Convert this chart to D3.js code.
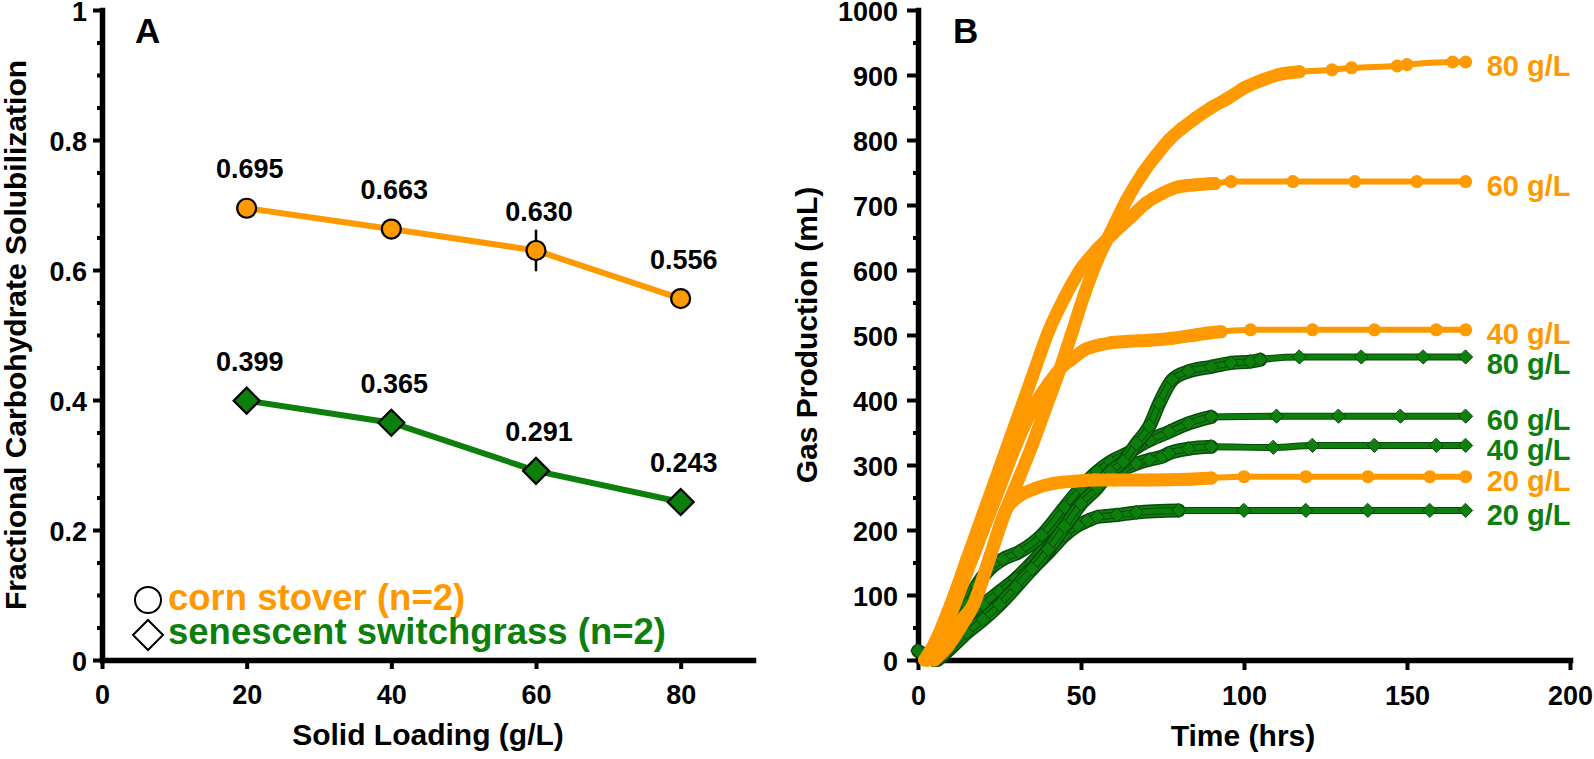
<!DOCTYPE html>
<html><head><meta charset="utf-8">
<script src="https://cdn.jsdelivr.net/npm/d3@7"></script>
<style>
body{margin:0;background:#fff}
svg{display:block}
text{font-family:Arial,"Liberation Sans",sans-serif;font-weight:bold}
</style>
</head><body>
<svg id="c" width="1594" height="759"></svg>
<script>
// ---------- Panel A data ----------
const loadings = [20, 40, 60, 80];
const cornStover = [0.695, 0.663, 0.630, 0.556];
const cornStoverErr = [0, 0, 0.032, 0];
const switchgrass = [0.399, 0.365, 0.291, 0.243];
const switchgrassErr = [0, 0, 0, 0];
const cornStoverLabels = ["0.695", "0.663", "0.630", "0.556"];
const switchgrassLabels = ["0.399", "0.365", "0.291", "0.243"];
const aXTicks = [0, 20, 40, 60, 80];
const aYTicks = [0, 0.2, 0.4, 0.6, 0.8, 1];
const aYTickLabels = ["0", "0.2", "0.4", "0.6", "0.8", "1"];

// ---------- Panel B data (time in hrs, gas in mL) ----------
const cs80Time = [5, 9, 13, 17, 22, 27, 31, 35, 39, 43, 47, 51, 55, 60, 64, 69, 73, 77, 81, 85, 90, 95, 100, 106, 112, 117, 127, 133, 147, 150, 164, 168];
const cs80Vol  = [0, 20, 50, 85, 158, 231, 280, 330, 385, 440, 500, 562, 615, 667, 708, 749, 776, 800, 818, 833, 850, 864, 880, 893, 902, 905, 908, 911, 914, 916, 920, 920];
const cs60Time = [2, 5, 10, 15, 20, 25, 30, 35, 40, 45, 50, 55, 60, 65, 70, 75, 80, 85, 91, 96, 115, 134, 153, 168];
const cs60Vol  = [0, 25, 85, 155, 225, 295, 365, 435, 505, 558, 602, 632, 657, 680, 703, 718, 728, 731, 733, 736, 736, 736, 736, 736];
const cs40Time = [3, 6, 10, 15, 20, 25, 30, 35, 40, 44, 47, 51, 56, 59, 64, 71, 78, 85, 89, 93, 102, 121, 140, 159, 168];
const cs40Vol  = [0, 25, 70, 135, 200, 265, 330, 385, 425, 450, 462, 477, 485, 488, 490, 492, 495, 500, 503, 505, 508, 508, 508, 508, 508];
const cs20Time = [3, 7, 10, 14, 17, 22, 27, 31, 36, 42, 48, 54, 60, 71, 83, 90, 100, 119, 138, 157, 168];
const cs20Vol  = [0, 20, 40, 65, 85, 158, 231, 252, 264, 272, 275, 277, 277, 277, 278, 280, 282, 282, 282, 282, 282];

const ssg80Time = [6, 10, 15, 20, 25, 30, 35, 40, 45, 50, 55, 59, 63, 67, 71, 74, 78, 83, 90, 96, 102, 105, 117, 136, 155, 168];
const ssg80Vol  = [0, 18, 42, 62, 85, 112, 140, 170, 205, 240, 265, 290, 305, 333, 360, 395, 431, 444, 451, 457, 459, 462, 466, 466, 466, 466];
const ssg60Time = [5, 10, 15, 18, 22, 26, 31, 38, 45, 50, 55, 59, 65, 68, 71, 77, 83, 90, 110, 129, 148, 168];
const ssg60Vol  = [0, 40, 85, 115, 140, 155, 166, 192, 235, 265, 290, 305, 320, 330, 338, 351, 364, 374, 375, 375, 375, 375];
const ssg40Time = [5, 10, 15, 20, 25, 30, 35, 40, 45, 50, 55, 60, 63, 67, 71, 75, 77, 83, 90, 109, 121, 140, 159, 168];
const ssg40Vol  = [0, 30, 60, 85, 105, 125, 150, 178, 212, 248, 275, 290, 294, 302, 308, 313, 318, 325, 328, 327, 330, 330, 330, 330];
const ssg20Time = [0, 3, 6, 10, 15, 20, 25, 30, 35, 40, 45, 49, 52, 55, 61, 67, 80, 100, 119, 138, 157, 168];
const ssg20Vol  = [14, 8, 12, 30, 52, 72, 92, 115, 140, 165, 192, 207, 214, 220, 223, 227, 230, 230, 230, 230, 230, 230];

const bXTicks = [0, 50, 100, 150, 200];
const bYTicks = [0, 100, 200, 300, 400, 500, 600, 700, 800, 900, 1000];
const seriesLabels = ["80 g/L", "60 g/L", "40 g/L", "20 g/L"];

// ---------- styles ----------
const ORANGE = "#ff9900", GREEN = "#0d7f0d", GREEN_DARK = "#0a4a0a";
const FONT = 'Arial, "Liberation Sans", sans-serif';
const svg = d3.select("#c");

function styleAxis(g, fs) {
  g.attr("font-size", fs).attr("font-family", FONT).attr("font-weight", "bold");
  g.select(".domain").attr("stroke", "#000").attr("stroke-width", 5.5).attr("stroke-linecap", "square");
  g.selectAll(".tick line").attr("stroke", "#000").attr("stroke-width", 4);
  g.selectAll(".tick text").attr("fill", "#000")
    .style("font-weight", "bold").style("font-size", fs + "px").style("font-family", FONT);
}
function minorAxis(g) {
  g.select(".domain").remove();
  g.selectAll(".tick line").attr("stroke", "#000").attr("stroke-width", 4);
}

// ================= Panel A =================
const xA = d3.scaleLinear().domain([0, 90]).range([102, 753]);
const yA = d3.scaleLinear().domain([0, 1]).range([660, 10]);

const aMinor = d3.range(0.05, 1, 0.05).filter(v => Math.abs(v * 5 - Math.round(v * 5)) > 1e-6);
svg.append("g").attr("transform", `translate(${xA(0)},0)`)
  .call(d3.axisLeft(yA).tickValues(aMinor).tickSize(5).tickFormat(() => "")).call(minorAxis);
const gAy = svg.append("g").attr("transform", `translate(${xA(0)},0)`)
  .call(d3.axisLeft(yA).tickValues(aYTicks).tickSize(9).tickSizeOuter(0).tickPadding(6)
    .tickFormat((d, i) => aYTickLabels[i]));
styleAxis(gAy, 27);
gAy.selectAll(".tick text").attr("dy", "0.37em");
const gAx = svg.append("g").attr("transform", `translate(0,${yA(0)})`)
  .call(d3.axisBottom(xA).tickValues(aXTicks).tickSize(9).tickSizeOuter(0).tickPadding(16));
styleAxis(gAx, 27);

svg.append("text").attr("transform", `translate(26,335) rotate(-90)`).attr("text-anchor", "middle")
  .attr("font-size", 30).text("Fractional Carbohydrate Solubilization");
svg.append("text").attr("x", 428).attr("y", 745).attr("text-anchor", "middle")
  .attr("font-size", 30).text("Solid Loading (g/L)");
svg.append("text").attr("x", 135).attr("y", 43).attr("font-size", 35).text("A");

const lineA = d3.line().x(d => xA(d.x)).y(d => yA(d.y));
const csA = loadings.map((x, i) => ({ x, y: cornStover[i], e: cornStoverErr[i], lab: cornStoverLabels[i] }));
const sgA = loadings.map((x, i) => ({ x, y: switchgrass[i], e: switchgrassErr[i], lab: switchgrassLabels[i] }));

svg.append("path").datum(csA).attr("d", lineA).attr("fill", "none").attr("stroke", ORANGE).attr("stroke-width", 6);
svg.append("path").datum(sgA).attr("d", lineA).attr("fill", "none").attr("stroke", GREEN).attr("stroke-width", 6);

[csA, sgA].forEach(ds => {
  svg.selectAll(null).data(ds.filter(d => d.e > 0)).enter().append("line")
    .attr("x1", d => xA(d.x)).attr("x2", d => xA(d.x))
    .attr("y1", d => yA(d.y + d.e)).attr("y2", d => yA(d.y - d.e))
    .attr("stroke", "#000").attr("stroke-width", 2.5);
});
svg.selectAll(null).data(csA).enter().append("circle")
  .attr("cx", d => xA(d.x)).attr("cy", d => yA(d.y)).attr("r", 9.5)
  .attr("fill", ORANGE).attr("stroke", "#000").attr("stroke-width", 2.2);
const diamond = h => `M0,${-h}L${h},0L0,${h}L${-h},0Z`;
svg.selectAll(null).data(sgA).enter().append("path")
  .attr("transform", d => `translate(${xA(d.x)},${yA(d.y)})`).attr("d", diamond(13))
  .attr("fill", GREEN).attr("stroke", "#000").attr("stroke-width", 2.2);
[csA, sgA].forEach(ds => {
  svg.selectAll(null).data(ds).enter().append("text")
    .attr("x", d => xA(d.x) + 3).attr("y", d => yA(d.y) - 30).attr("text-anchor", "middle")
    .attr("font-size", 27).attr("fill", "#000").text(d => d.lab);
});

// legend
svg.append("circle").attr("cx", 148).attr("cy", 600).attr("r", 13).attr("fill", "#fff").attr("stroke", "#000").attr("stroke-width", 2);
svg.append("path").attr("transform", "translate(148,635)").attr("d", diamond(15)).attr("fill", "#fff").attr("stroke", "#000").attr("stroke-width", 2);
svg.append("text").attr("x", 168).attr("y", 610).attr("font-size", 36.5).attr("fill", ORANGE).text("corn stover (n=2)");
svg.append("text").attr("x", 168).attr("y", 644).attr("font-size", 36.5).attr("fill", GREEN).text("senescent switchgrass (n=2)");

// ================= Panel B =================
const xB = d3.scaleLinear().domain([0, 200]).range([918, 1570]);
const yB = d3.scaleLinear().domain([0, 1000]).range([660, 10]);

const bMinor = d3.range(50, 1000, 100);
svg.append("g").attr("transform", `translate(${xB(0)},0)`)
  .call(d3.axisLeft(yB).tickValues(bMinor).tickSize(5).tickFormat(() => "")).call(minorAxis);
const gBy = svg.append("g").attr("transform", `translate(${xB(0)},0)`)
  .call(d3.axisLeft(yB).tickValues(bYTicks).tickSize(11).tickSizeOuter(0).tickPadding(9).tickFormat(d3.format("d")));
styleAxis(gBy, 27);
gBy.selectAll(".tick text").attr("dy", "0.37em");
const gBx = svg.append("g").attr("transform", `translate(0,${yB(0)})`)
  .call(d3.axisBottom(xB).tickValues(bXTicks).tickSize(10).tickSizeOuter(0).tickPadding(16).tickFormat(d3.format("d")));
styleAxis(gBx, 27);

svg.append("text").attr("transform", `translate(817,335) rotate(-90)`).attr("text-anchor", "middle")
  .attr("font-size", 30).text("Gas Production (mL)");
svg.append("text").attr("x", 1243).attr("y", 746).attr("text-anchor", "middle")
  .attr("font-size", 30).text("Time (hrs)");
svg.append("text").attr("x", 953).attr("y", 43).attr("font-size", 35).text("B");

const seriesB = [
  { key: "ssg20", kind: "g", t: ssg20Time, v: ssg20Vol, label: seriesLabels[3] },
  { key: "ssg40", kind: "g", t: ssg40Time, v: ssg40Vol, label: seriesLabels[2] },
  { key: "ssg60", kind: "g", t: ssg60Time, v: ssg60Vol, label: seriesLabels[1] },
  { key: "ssg80", kind: "g", t: ssg80Time, v: ssg80Vol, label: seriesLabels[0] },
  { key: "cs20", kind: "o", t: cs20Time, v: cs20Vol, label: seriesLabels[3] },
  { key: "cs40", kind: "o", t: cs40Time, v: cs40Vol, label: seriesLabels[2] },
  { key: "cs60", kind: "o", t: cs60Time, v: cs60Vol, label: seriesLabels[1] },
  { key: "cs80", kind: "o", t: cs80Time, v: cs80Vol, label: seriesLabels[0] }
];
// time up to which the original sampling is dense (markers merge into a band)
const bandUntil = { ssg20: 80, ssg40: 90, ssg60: 90, ssg80: 105, cs20: 90, cs40: 93, cs60: 91, cs80: 117 };

const lineB = d3.line().x(d => xB(d.t)).y(d => yB(d.v)).curve(d3.curveMonotoneX);
const gB = svg.append("g").attr("fill", "none").attr("stroke-linejoin", "round").attr("stroke-linecap", "round");
const endLabels = [];

seriesB.forEach(s => {
  const pts = s.t.map((t, i) => ({ t, v: s.v[i] }));
  const dense = pts.filter(p => p.t <= bandUntil[s.key]);
  const col = s.kind === "o" ? ORANGE : GREEN;
  if (s.kind === "g") {
    gB.append("path").datum(dense).attr("d", lineB).attr("stroke", GREEN_DARK).attr("stroke-width", 14);
    gB.append("path").datum(dense).attr("d", lineB).attr("stroke", GREEN).attr("stroke-width", 11);
  } else {
    gB.append("path").datum(dense).attr("d", lineB).attr("stroke", ORANGE).attr("stroke-width", 13);
  }
  gB.append("path").datum(pts).attr("d", lineB).attr("stroke", s.kind === "g" ? GREEN_DARK : ORANGE).attr("stroke-width", s.kind === "g" ? 7 : 6);
  if (s.kind === "g") gB.append("path").datum(pts).attr("d", lineB).attr("stroke", GREEN).attr("stroke-width", 5);
  if (s.kind === "o") {
    gB.selectAll(null).data(pts).enter().append("circle")
      .attr("cx", d => xB(d.t)).attr("cy", d => yB(d.v)).attr("r", 6.5).attr("fill", ORANGE).attr("stroke", "none");
  } else {
    gB.selectAll(null).data(pts).enter().append("path")
      .attr("transform", d => `translate(${xB(d.t)},${yB(d.v)})`).attr("d", diamond(7))
      .attr("fill", GREEN).attr("stroke", GREEN_DARK).attr("stroke-width", 1);
  }
  const last = pts[pts.length - 1];
  endLabels.push({ x: xB(last.t) + 21, y: yB(last.v) + 14, col, text: s.label });
});
endLabels.sort((a, b) => a.y - b.y);
for (let i = 1; i < endLabels.length; i++) {
  if (endLabels[i].y - endLabels[i - 1].y < 30) endLabels[i].y = endLabels[i - 1].y + 30;
}
svg.selectAll(null).data(endLabels).enter().append("text")
  .attr("x", d => d.x).attr("y", d => d.y).attr("font-size", 29).attr("fill", d => d.col).text(d => d.text);
</script>
</body></html>
